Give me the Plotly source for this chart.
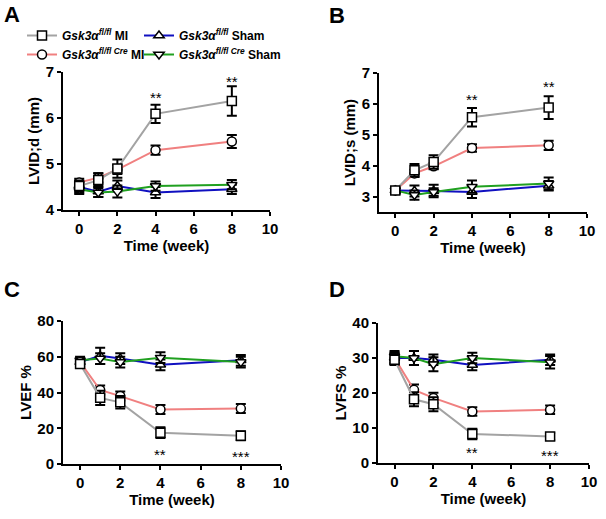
import plotly.graph_objects as go

weeks = [0, 1, 2, 4, 8]

series_names = [
    "<b><i>Gsk3α</i><sup><i>fl/fl</i></sup> MI</b>",
    "<b><i>Gsk3α</i><sup><i>fl/fl Cre</i></sup> MI</b>",
    "<b><i>Gsk3α</i><sup><i>fl/fl</i></sup> Sham</b>",
    "<b><i>Gsk3α</i><sup><i>fl/fl Cre</i></sup> Sham</b>",
]

# Panel A: LVID;d (mm)
lvidd_mi = [4.52, 4.65, 4.9, 6.09, 6.37]
lvidd_mi_err = [0.12, 0.15, 0.2, 0.2, 0.32]
lvidd_cre_mi = [4.6, 4.7, 4.88, 5.3, 5.49]
lvidd_cre_mi_err = [0.08, 0.1, 0.1, 0.1, 0.14]
lvidd_sham = [4.5, 4.4, 4.52, 4.38, 4.45]
lvidd_sham_err = [0.12, 0.12, 0.12, 0.12, 0.1]
lvidd_cre_sham = [4.45, 4.38, 4.4, 4.52, 4.55]
lvidd_cre_sham_err = [0.1, 0.1, 0.13, 0.1, 0.1]

# Panel B: LVID;s (mm)
lvids_mi = [3.2, 3.85, 4.12, 5.57, 5.88]
lvids_mi_err = [0.1, 0.2, 0.22, 0.3, 0.37]
lvids_cre_mi = [3.2, 3.75, 3.98, 4.57, 4.66]
lvids_cre_mi_err = [0.08, 0.12, 0.1, 0.12, 0.15]
lvids_sham = [3.2, 3.18, 3.18, 3.15, 3.35]
lvids_sham_err = [0.1, 0.18, 0.2, 0.2, 0.15]
lvids_cre_sham = [3.2, 3.05, 3.15, 3.32, 3.42]
lvids_cre_sham_err = [0.1, 0.15, 0.12, 0.2, 0.2]

# Panel C: LVEF %
lvef_mi = [56, 37, 34.5, 17.5, 15.8]
lvef_mi_err = [2, 4, 3.5, 3, 2.5]
lvef_cre_mi = [57, 41.4, 38, 30.5, 31]
lvef_cre_mi_err = [2, 2.5, 2.5, 2.5, 2.5]
lvef_sham = [57, 60.5, 59, 55.5, 58]
lvef_sham_err = [2, 4.5, 3, 3, 3]
lvef_cre_sham = [58, 59, 57, 59.5, 57]
lvef_cre_sham_err = [2, 3, 3, 3, 3]

# Panel D: LVFS %
lvfs_mi = [29.5, 18.2, 16.8, 8.3, 7.6]
lvfs_mi_err = [1.5, 2, 2, 1.5, 1]
lvfs_cre_mi = [30, 20.9, 18.6, 14.7, 15.2]
lvfs_cre_mi_err = [1.5, 1.5, 1.5, 1.2, 1.2]
lvfs_sham = [30, 30, 29.5, 28, 29.5]
lvfs_sham_err = [1.5, 2, 1.5, 1.5, 1.5]
lvfs_cre_sham = [30.5, 30, 28.2, 30, 28.8]
lvfs_cre_sham_err = [1.5, 2, 2, 1.5, 1.8]

# significance marks (x, y, text) per panel
stars_a = ([4, 8], [6.45, 6.8], ["**", "**"])
stars_b = ([4, 8], [6.15, 6.57], ["**", "**"])
stars_c = ([4, 8], [5.5, 4.0], ["**", "***"])
stars_d = ([4, 8], [3.0, 2.2], ["**", "***"])

y_ticks_a = [4, 5, 6, 7]
y_ticks_b = [3, 4, 5, 6, 7]
y_ticks_c = [0, 20, 40, 60, 80]
y_ticks_d = [0, 10, 20, 30, 40]
x_ticks = [0, 2, 4, 6, 8, 10]

colors = ["#a3a3a3", "#f08080", "#1010c0", "#20a020"]
symbols = ["square", "circle", "triangle-up", "triangle-down"]
ranks = [1, 2, 1, 2]
legends = ["legend", "legend", "legend2", "legend2"]
draw_order = [2, 3, 1, 0]

panels = [
    ([lvidd_mi, lvidd_cre_mi, lvidd_sham, lvidd_cre_sham],
     [lvidd_mi_err, lvidd_cre_mi_err, lvidd_sham_err, lvidd_cre_sham_err], stars_a),
    ([lvids_mi, lvids_cre_mi, lvids_sham, lvids_cre_sham],
     [lvids_mi_err, lvids_cre_mi_err, lvids_sham_err, lvids_cre_sham_err], stars_b),
    ([lvef_mi, lvef_cre_mi, lvef_sham, lvef_cre_sham],
     [lvef_mi_err, lvef_cre_mi_err, lvef_sham_err, lvef_cre_sham_err], stars_c),
    ([lvfs_mi, lvfs_cre_mi, lvfs_sham, lvfs_cre_sham],
     [lvfs_mi_err, lvfs_cre_mi_err, lvfs_sham_err, lvfs_cre_sham_err], stars_d),
]

W, H = 606, 519
FONT = "Liberation Sans, Arial, sans-serif"

annotations = []
fig = go.Figure()
for p, (vals, errs, stars) in enumerate(panels):
    xa = "x" if p == 0 else f"x{p+1}"
    ya = "y" if p == 0 else f"y{p+1}"
    for i in draw_order:
        fig.add_trace(go.Scatter(
            x=weeks, y=vals[i], xaxis=xa, yaxis=ya,
            mode="lines+markers",
            name=series_names[i],
            legend=legends[i], legendrank=ranks[i],
            showlegend=(p == 0),
            line=dict(color=colors[i], width=2),
            marker=dict(symbol=symbols[i], size=9, color="white",
                        line=dict(color="black", width=1.5)),
            error_y=dict(type="data", array=errs[i], color="black",
                         thickness=2, width=5),
        ))
    for sx, sy, st in zip(*stars):
        annotations.append(dict(x=sx, y=sy, text=st, xref=xa, yref=ya,
                                showarrow=False, xanchor="center", yanchor="middle",
                                font=dict(family=FONT, size=15, color="black")))

def px_dom_x(a, b):
    return [a / W, b / W]

def px_dom_y(top, bottom):
    return [1 - bottom / H, 1 - top / H]

axis_common = dict(
    showline=True, linecolor="black", linewidth=2,
    ticks="outside", tickcolor="black", tickwidth=2, ticklen=4,
    showgrid=False, zeroline=False, automargin=False,
    tickfont=dict(family=FONT, size=15, color="black", weight="bold"),
)

layouts = [
    (px_dom_x(63, 270), px_dom_y(72, 210), [4, 7], y_ticks_a, "LVID;d (mm)"),
    (px_dom_x(379, 587), px_dom_y(73, 212), [2.5, 7], y_ticks_b, "LVID;s (mm)"),
    (px_dom_x(63, 281), px_dom_y(321, 464), [0, 80], y_ticks_c, "LVEF %"),
    (px_dom_x(378, 589), px_dom_y(323, 463), [0, 40], y_ticks_d, "LVFS %"),
]

lay = {}
for p, (xd, yd, yr, yt, ytitle) in enumerate(layouts):
    xk = "xaxis" if p == 0 else f"xaxis{p+1}"
    yk = "yaxis" if p == 0 else f"yaxis{p+1}"
    xname = "x" if p == 0 else f"x{p+1}"
    yname = "y" if p == 0 else f"y{p+1}"
    lay[xk] = dict(axis_common, domain=xd, range=[-0.85, 10], tickvals=x_ticks,
                   anchor=yname,
                   title=dict(text="<b>Time (week)</b>", standoff=4,
                              font=dict(family=FONT, size=15, color="black")))
    lay[yk] = dict(axis_common, domain=yd, range=yr, tickvals=yt,
                   anchor=xname,
                   title=dict(text=f"<b>{ytitle}</b>", standoff=2,
                              font=dict(family=FONT, size=15, color="black")))

fig.update_layout(**lay)

letters = [("A", 12, 14), ("B", 337, 15), ("C", 12, 289), ("D", 337, 289)]
for t, x, y in letters:
    annotations.append(dict(text=f"<b>{t}</b>", x=x / W, y=1 - y / H,
                            xref="paper", yref="paper", showarrow=False,
                            xanchor="center", yanchor="middle",
                            font=dict(family=FONT, size=22, color="black")))

fig.update_layout(
    width=W, height=H,
    margin=dict(l=0, r=0, t=0, b=0, autoexpand=False),
    paper_bgcolor="white", plot_bgcolor="white",
    showlegend=True,
    annotations=annotations,
    legend=dict(x=22 / W, y=1 - 21 / H, xanchor="left", yanchor="top",
                bgcolor="rgba(0,0,0,0)", tracegroupgap=0,
                font=dict(family=FONT, size=12, color="black")),
    legend2=dict(x=139 / W, y=1 - 21 / H, xanchor="left", yanchor="top",
                 bgcolor="rgba(0,0,0,0)", tracegroupgap=0,
                 font=dict(family=FONT, size=12, color="black")),
)

fig.write_html(
    "out.html",
    config={"displayModeBar": False},
    post_script="document.body.style.margin='0';document.body.style.overflow='hidden';",
)
